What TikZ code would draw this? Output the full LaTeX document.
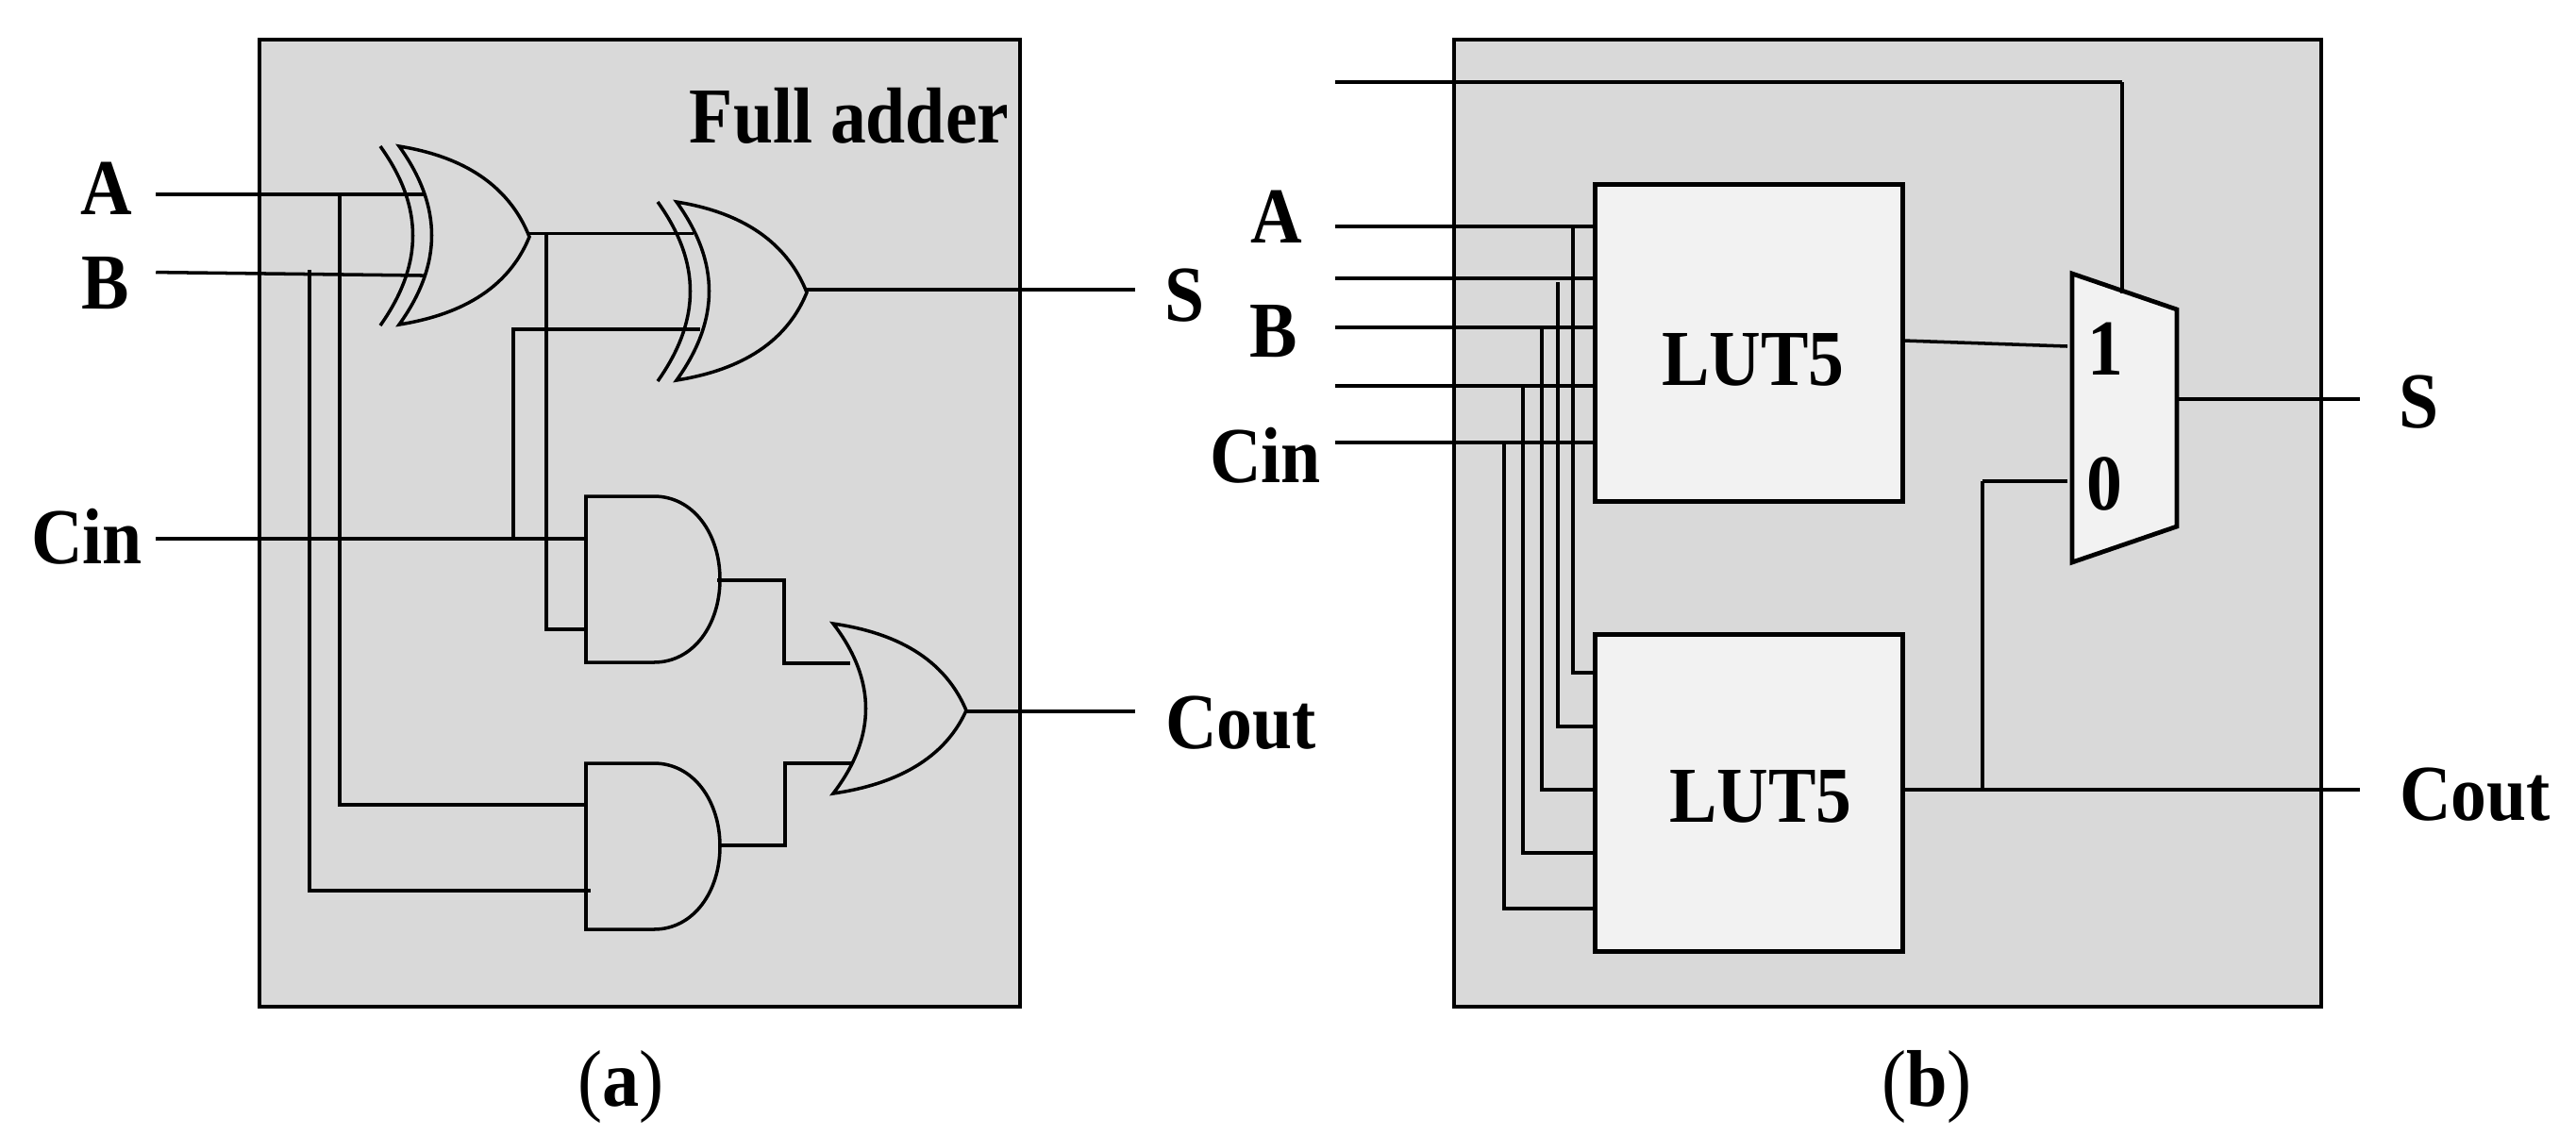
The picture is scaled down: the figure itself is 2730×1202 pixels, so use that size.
\documentclass[tikz,border=0pt]{standalone}
\usepackage{fontspec}
\setmainfont{Liberation Serif}[FakeStretch=0.9]
\newfontfamily\capfont{Liberation Serif}[FakeStretch=0.92]
\usetikzlibrary{positioning}
\definecolor{panel}{RGB}{217, 217, 217}
\definecolor{lutfill}{RGB}{242, 242, 242}

\begin{document}
\begin{tikzpicture}[
   x=0.01cm, y=-0.01cm,
   wire/.style={draw=black, line width=1pt},
   panelbox/.style={draw=black, fill=panel, line width=1.35pt},
   lutbox/.style={rectangle, draw=black, fill=lutfill, line width=1.35pt, inner sep=0,
                  minimum width=326*0.01cm, minimum height=336*0.01cm},
   lab/.style={anchor=base, inner sep=0, font=\fontsize{23.9}{24}\selectfont\bfseries},
   sublab/.style={anchor=base, inner sep=0, font=\fontsize{24.2}{25}\selectfont\capfont},
   orgate/.pic={
     \draw[wire] (0,0) .. controls (55,8) and (115,30) .. (141,92)
        .. controls (115,150) and (55,172) .. (0,180)
        .. controls (46,120) and (46,60) .. cycle;
   },
   xorgate/.pic={
     \draw[wire] (0,0) .. controls (50,8) and (112,30) .. (138,96)
        .. controls (112,160) and (50,181) .. (0,189)
        .. controls (46,125) and (46,64) .. cycle;
     \draw[wire] (-20,0) .. controls (26,64) and (26,125) .. (-20,190);
   },
   andgate/.pic={
     \draw[wire] (0,0) -- (72,0) .. controls (114,0) and (142,40) .. (142,88)
        .. controls (142,136) and (114,176) .. (72,176) -- (0,176) -- cycle;
   }
  ]
  \useasboundingbox (0,0) rectangle (2730,1202);

  % Full adder panel
  \begin{scope}
    \draw[panelbox] (275,42) rectangle (1081,1067);

    \node[lab] (fa) at (900,151) {Full adder};
    \node[lab] (A) at (113,227) {A};
    \node[lab] (B) at (112,327) {B};
    \node[lab] (Cin) at (92,597) {Cin};
    \node[lab] (S) at (1256,340) {S};
    \node[lab] (Cout) at (1315,793) {Cout};
    \node[sublab] (capa) at (658,1172) {(\textbf{a})};

    \pic at (423,155) {xorgate};
    \pic at (717,214) {xorgate};
    \pic at (883,661) {orgate};
    \pic at (621,526) {andgate};
    \pic at (621,809) {andgate};

    \coordinate (a0) at (167,206);
    \coordinate (a1) at (447,206);
    \coordinate (at) at (360,206);
    \coordinate (ad) at (360,853);
    \coordinate (ae) at (621,853);
    \coordinate (b0) at (167,288.6);
    \coordinate (b1) at (447,292);
    \coordinate (bt) at (328,288);
    \coordinate (bd) at (328,944);
    \coordinate (be) at (624,944);
    \coordinate (c0) at (167,571);
    \coordinate (c1) at (621,571);
    \coordinate (ct) at (544,571);
    \coordinate (cu) at (544,349);
    \coordinate (cv) at (740,349);
    \coordinate (x0) at (561,247.5);
    \coordinate (x1) at (733,247.5);
    \coordinate (xt) at (579,247.5);
    \coordinate (xd) at (579,667);
    \coordinate (xe) at (621,667);
    \coordinate (s0) at (855,307);
    \coordinate (s1) at (1201,307);
    \coordinate (p0) at (762,615);
    \coordinate (p1) at (831,615);
    \coordinate (p2) at (831,703);
    \coordinate (p3) at (899,703);
    \coordinate (q0) at (764,896);
    \coordinate (q1) at (832,896);
    \coordinate (q2) at (832,809);
    \coordinate (q3) at (901,809);
    \coordinate (o0) at (1025,754);
    \coordinate (o1) at (1201,754);

    \foreach \B/\E in {a0/a1, at/ad, ad/ae, b0/b1, bt/bd, bd/be, c0/c1, ct/cu, cu/cv,
                       x0/x1, xt/xd, xd/xe, s0/s1, p0/p1, p1/p2, p2/p3,
                       q0/q1, q1/q2, q2/q3, o0/o1} {
      \draw[wire, line cap=rect] (\B) -- (\E);
    }
  \end{scope}

  % LUT panel
  \begin{scope}
    \draw[panelbox] (1541,42) rectangle (2460,1067);

    \node[lutbox, anchor=north west] (L1) at (1688,193) {};
    \node[lutbox, anchor=north west] (L2) at (1688,670) {};
    \node[lab] at (1858,408) {LUT5};
    \node[lab] at (1866,871) {LUT5};

    \draw[wire, fill=lutfill, line width=1.35pt] (2196,290) -- (2307,328) -- (2307,558) -- (2196,596) -- cycle;
    \node[lab] (one) at (2231,397) {1};
    \node[lab] (zero) at (2230,540) {0};

    \node[lab] (A2) at (1353,257) {A};
    \node[lab] (B2) at (1350,378) {B};
    \node[lab] (Cin2) at (1341,511) {Cin};
    \node[lab] (S2) at (2564,453) {S};
    \node[lab] (Cout2) at (2623,869) {Cout};
    \node[sublab] (capb) at (2042,1172) {(\textbf{b})};

    % inputs of both tables
    \foreach \y/\t/\x/\e [count=\i] in {240/240/1667/713, 295/299/1651/770, 347/347/1634/837,
                                        409/409/1614/904, 469/469/1594/963} {
      \coordinate (in\i) at (1415,\y);
      \coordinate (up\i) at (\x,\t);
      \coordinate (dn\i) at (\x,\e);
      \draw[wire] (in\i) -- (in\i -| L1.west);
      \draw[wire] (up\i) -- (dn\i) -- (dn\i -| L2.west);
    }

    \coordinate (t0) at (1415,87);
    \coordinate (t1) at (2249,87);
    \coordinate (t2) at (2249,311);
    \coordinate (m1) at (2191,367);
    \coordinate (l1) at (2017,361);
    \coordinate (m0) at (2191,510);
    \coordinate (m2) at (2101,510);
    \coordinate (m3) at (2101,837);
    \coordinate (l2) at (2017,837);
    \coordinate (c2) at (2501,837);
    \coordinate (s2) at (2307,423);
    \coordinate (s3) at (2501,423);

    \foreach \B/\E in {t0/t1, t1/t2, l1/m1, m0/m2, m2/m3, l2/c2, s2/s3} {
      \draw[wire] (\B) -- (\E);
    }
  \end{scope}

\end{tikzpicture}
\end{document}
